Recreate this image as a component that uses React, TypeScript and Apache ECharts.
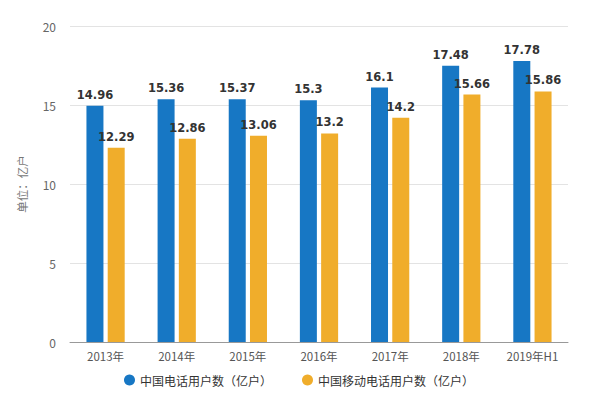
import React, { useEffect, useRef } from "react";
import * as echarts from "echarts";

const categories = ["2013年", "2014年", "2015年", "2016年", "2017年", "2018年", "2019年H1"];
const phoneUsers = [14.96, 15.36, 15.37, 15.3, 16.1, 17.48, 17.78];
const mobileUsers = [12.29, 12.86, 13.06, 13.2, 14.2, 15.66, 15.86];
const seriesNames = ["中国电话用户数（亿户）", "中国移动电话用户数（亿户）"];
const yTicks = { min: 0, max: 20, interval: 5 };

export default function App() {
  const ref = useRef<HTMLDivElement>(null);
  useEffect(() => {
    document.body.style.margin = "0";
    const chart = echarts.init(ref.current!, null, { renderer: "svg" });
    const font = '"Noto Sans CJK SC", "Noto Sans", sans-serif';
    const label = {
      show: true,
      position: "top" as const,
      distance: 5,
      color: "#333",
      fontWeight: "bold" as const,
      fontSize: 11.5,
      fontFamily: "Verdana, 'DejaVu Sans', sans-serif",
    };
    chart.setOption({
      animation: false,
      textStyle: { fontFamily: font },
      grid: { left: 70, right: 30, top: 26, bottom: 52 },
      legend: {
        bottom: 3,
        left: "center",
        icon: "circle",
        itemWidth: 11,
        itemHeight: 11,
        itemGap: 30,
        textStyle: { color: "#333", fontSize: 12, fontFamily: font },
        data: seriesNames,
      },
      xAxis: {
        type: "category",
        data: categories,
        axisLine: { lineStyle: { color: "#999" } },
        axisTick: { alignWithLabel: true, length: 5, lineStyle: { color: "#999" } },
        axisLabel: { color: "#555", fontSize: 11.5, margin: 8, fontFamily: font },
      },
      yAxis: {
        type: "value",
        min: yTicks.min,
        max: yTicks.max,
        interval: yTicks.interval,
        name: "单位：亿户",
        nameLocation: "middle",
        nameGap: 42,
        nameTextStyle: { color: "#777", fontSize: 11.5, fontFamily: font },
        axisLine: { show: false },
        axisTick: { show: false },
        axisLabel: { color: "#666", fontSize: 12, margin: 14 },
        splitLine: { lineStyle: { color: "#e3e3e3" } },
      },
      series: [
        {
          name: seriesNames[0],
          type: "bar",
          data: phoneUsers,
          barWidth: 17,
          barGap: "25%",
          itemStyle: { color: "#1777c4" },
          label,
        },
        {
          name: seriesNames[1],
          type: "bar",
          data: mobileUsers,
          barWidth: 17,
          barGap: "25%",
          itemStyle: { color: "#f0ad2b" },
          label,
        },
      ],
    });
    return () => chart.dispose();
  }, []);
  return <div ref={ref} style={{ width: 598, height: 394 }} />;
}
